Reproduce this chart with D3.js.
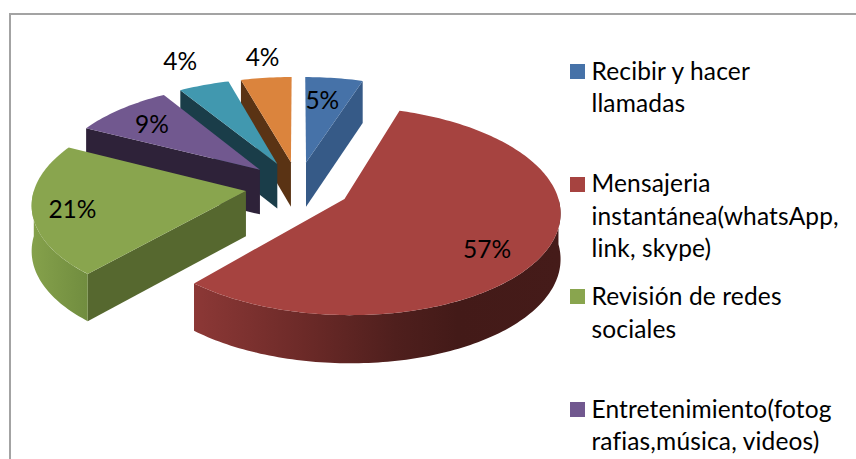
<!DOCTYPE html>
<html><head><meta charset="utf-8">
<script src="https://cdnjs.cloudflare.com/ajax/libs/d3/7.8.5/d3.min.js"></script>
<style>html,body{margin:0;padding:0;background:#fff}svg{display:block}text{font-family:Lato,"Open Sans",sans-serif;fill:#000}</style>
</head><body><script>
const categories = ["Recibir y hacer llamadas","Mensajeria instantánea(whatsApp, link, skype)","Revisión de redes sociales","Entretenimiento(fotografias,música, videos)","Otros A","Otros B"];
const shareValues = [5, 56.5, 21, 8.7, 4.4, 4.4];
const shareLabels = ["5%","57%","21%","9%","4%","4%"];
const topColors = ["#4672a8","#a64340","#89a54e","#71588f","#4198af","#db843d"];
const faceColors = ["#365a87","#7d3230","#56682f","#2e2239","#1a3d49","#5a3314"];
const legendLines = [["Recibir y hacer","llamadas"],["Mensajeria","instantánea(whatsApp,","link, skype)"],["Revisión de redes","sociales"],["Entretenimiento(fotog","rafias,música, videos)"]];
const legendBaselines = [[80,112],[192,225,257],[305,338],[418,450]];
const legendBoxTops = [64,177,289,402];
const labelRadial = [0.7,0.75,0.8,0.75,1.35,1.3];
const labelNudge = [[-4,-1.5],[-5,11],[-3,3],[-2,1],[-1,1],[3,2]];

const W=856,H=459,explode=0.25,persp=0.113;
const svg=d3.select("body").append("svg").attr("width",W).attr("height",H);
const defs=svg.append("defs");
const sx=d3.scaleLinear().domain([0,1]).range([298,509]);
const sy=d3.scaleLinear().domain([0,1]).range([186.4,86.4]);
const depth=w=>45*Math.sqrt(w);

svg.append("path").attr("d",`M10 ${H}V14H${W}`).attr("fill","none").attr("stroke","#a3a3a3").attr("stroke-width",2);

const arcs=d3.pie().sort(null).value(d=>d)(shareValues);
// true-3D projection of a point in the pie plane
function proj(d,ang,r,down){
  const mid=(d.startAngle+d.endAngle)/2;
  const u=explode*Math.sin(mid)+r*Math.sin(ang), v=explode*Math.cos(mid)+r*Math.cos(ang);
  const w=1/(1+persp*v);
  return [sx(u*w), sy(v*w)+(down?depth(w):0)];
}
const line=d3.line();
const samples=(a,b)=>{const n=Math.max(2,Math.ceil((b-a)/0.02));return d3.range(n+1).map(i=>a+(b-a)*i/n);};

const gradL=defs.append("linearGradient").attr("id","wall1").attr("gradientUnits","userSpaceOnUse").attr("x1",194).attr("x2",560).attr("y1",0).attr("y2",0);
[[0,"#8c3836"],[0.3,"#6c2a28"],[0.55,"#4f1f1d"],[0.72,"#431a18"],[1,"#451b19"]].forEach(s=>gradL.append("stop").attr("offset",s[0]).attr("stop-color",s[1]));
const gradG=defs.append("linearGradient").attr("id","wall2").attr("gradientUnits","userSpaceOnUse").attr("x1",32).attr("x2",92).attr("y1",0).attr("y2",0);
[[0,"#85a14b"],[1,"#6f8b3e"]].forEach(s=>gradG.append("stop").attr("offset",s[0]).attr("stop-color",s[1]));

const drawOrder=[0,5,4,3,2,1];
const g=svg.append("g");
const PI=Math.PI;
drawOrder.forEach(i=>{
  const d=arcs[i],a0=d.startAngle,a1=d.endAngle;
  const face=a=>[proj(d,a,0,false),proj(d,a,1,false),proj(d,a,1,true),proj(d,a,0,true)];
  if(a1<PI) g.append("path").attr("d",line(face(a1))+"Z").attr("fill",faceColors[i]);
  if(a0>PI) g.append("path").attr("d",line(face(a0))+"Z").attr("fill",faceColors[i]);
  const lo=Math.max(a0,PI/2),hi=Math.min(a1,1.5*PI);
  if(hi>lo){
    const s=samples(lo,hi);
    const pts=s.map(a=>proj(d,a,1,false)).concat(s.slice().reverse().map(a=>proj(d,a,1,true)));
    g.append("path").attr("d",line(pts)+"Z").attr("fill",i===1?"url(#wall1)":"url(#wall2)");
  }
  const top=[proj(d,a0,0,false)].concat(samples(a0,a1).map(a=>proj(d,a,1,false)));
  g.append("path").attr("d",line(top)+"Z").attr("fill",topColors[i]);
});

// data labels
arcs.forEach((d,i)=>{
  const p=proj(d,(d.startAngle+d.endAngle)/2,labelRadial[i],false);
  svg.append("text").attr("x",p[0]+labelNudge[i][0]).attr("y",p[1]+labelNudge[i][1]).attr("dy",".35em")
    .attr("text-anchor","middle").attr("font-size",24.5).text(shareLabels[i]);
});

// legend
legendLines.forEach((lines,i)=>{
  svg.append("rect").attr("x",570).attr("y",legendBoxTops[i]).attr("width",15).attr("height",15).attr("fill",topColors[i]);
  lines.forEach((t,j)=>svg.append("text").attr("x",591.5).attr("y",legendBaselines[i][j]).attr("font-size",24.5).attr("letter-spacing",0.15).text(t));
});
</script></body></html>
